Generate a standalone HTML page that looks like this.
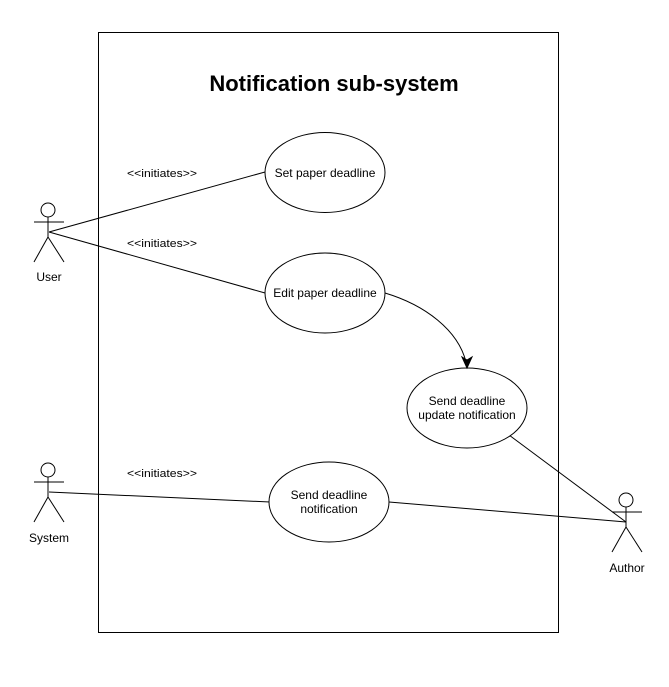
<!DOCTYPE html>
<html><head><meta charset="utf-8"><style>
html,body{margin:0;padding:0;background:#fff;}
svg{display:block;}
text{font-family:"Liberation Sans",Arial,sans-serif;fill:#000;}
</style></head><body>
<svg width="669" height="687" viewBox="0 0 669 687" xmlns="http://www.w3.org/2000/svg">
<rect x="98.5" y="32.5" width="460" height="600" fill="#fff" stroke="#000" stroke-width="1"/>
<text x="334" y="91" font-size="22" font-weight="bold" text-anchor="middle">Notification sub-system</text>

<g fill="none" stroke="#000" stroke-width="1">
<line x1="49" y1="232" x2="265" y2="172"/>
<line x1="49" y1="232" x2="265" y2="293"/>
<line x1="49" y1="492" x2="270" y2="502"/>
<line x1="389" y1="502" x2="626" y2="522"/>
<line x1="509" y1="435" x2="626" y2="522"/>
<path d="M385 293 C425 305 458 330 466 362"/>
<ellipse cx="325" cy="172.5" rx="60" ry="40" fill="#fff"/>
<ellipse cx="325" cy="293" rx="60" ry="40" fill="#fff"/>
<ellipse cx="467" cy="408" rx="60" ry="40" fill="#fff"/>
<ellipse cx="329" cy="502" rx="60" ry="40" fill="#fff"/>
<g>
<circle cx="48" cy="210" r="7"/>
<line x1="48" y1="217" x2="48" y2="237"/>
<line x1="34" y1="222" x2="64" y2="222"/>
<line x1="48" y1="237" x2="34" y2="262"/>
<line x1="48" y1="237" x2="64" y2="262"/>
</g>
<g>
<circle cx="48" cy="470" r="7"/>
<line x1="48" y1="477" x2="48" y2="497"/>
<line x1="34" y1="482" x2="64" y2="482"/>
<line x1="48" y1="497" x2="34" y2="522"/>
<line x1="48" y1="497" x2="64" y2="522"/>
</g>
<g>
<circle cx="626" cy="500" r="7"/>
<line x1="626" y1="507" x2="626" y2="527"/>
<line x1="612" y1="512" x2="642" y2="512"/>
<line x1="626" y1="527" x2="612" y2="552"/>
<line x1="626" y1="527" x2="642" y2="552"/>
</g>
</g>
<path d="M467 368 L462 357 L467 360 L472 357 Z" fill="#000" stroke="#000"/>

<g font-size="12" text-anchor="middle">
<text x="325" y="177">Set paper deadline</text>
<text x="325" y="297">Edit paper deadline</text>
<text x="467" y="405">Send deadline</text>
<text x="467" y="419">update notification</text>
<text x="329" y="499">Send deadline</text>
<text x="329" y="513">notification</text>
<text x="49" y="281">User</text>
<text x="49" y="542">System</text>
<text x="627" y="572">Author</text>
</g>
<g font-size="11" style="fill:#333">
<text x="127" y="177" textLength="70" lengthAdjust="spacingAndGlyphs">&lt;&lt;initiates&gt;&gt;</text>
<text x="127" y="247" textLength="70" lengthAdjust="spacingAndGlyphs">&lt;&lt;initiates&gt;&gt;</text>
<text x="127" y="477" textLength="70" lengthAdjust="spacingAndGlyphs">&lt;&lt;initiates&gt;&gt;</text>
</g>
</svg>
</body></html>
